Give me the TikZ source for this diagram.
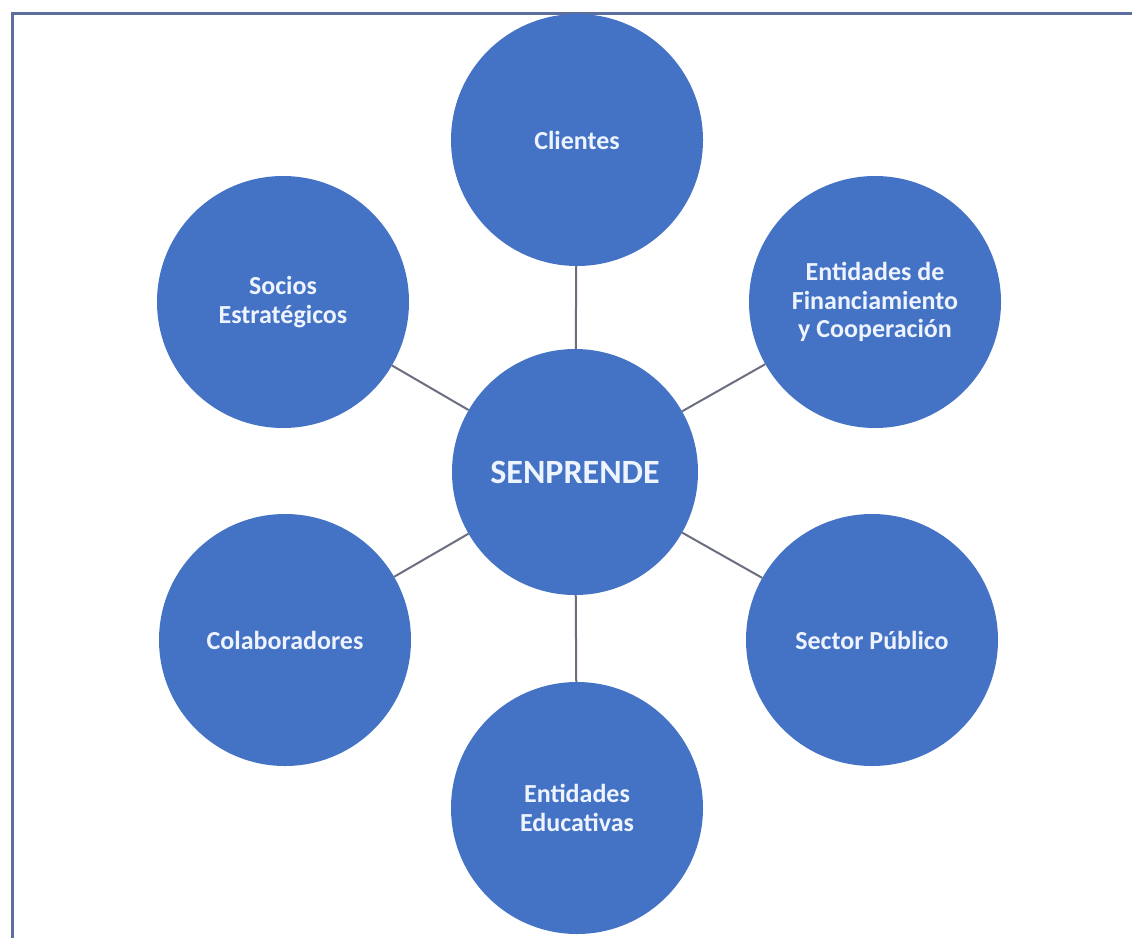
\documentclass[tikz,border=0pt]{standalone}
\usepackage{fontspec}
\setmainfont{Carlito}
\usepackage{tikz}

\definecolor{azul}{HTML}{4472C4}
\definecolor{marco}{HTML}{5B6E9E}
\definecolor{linea}{HTML}{6A6E7E}
\definecolor{texto}{HTML}{EEF4FF}

\begin{document}
\begin{tikzpicture}[x=1pt,y=-1pt,
    circulo/.style={circle,fill=azul,minimum size=252pt,inner sep=0pt,
        text=texto,font=\fontsize{26}{28.5}\selectfont\bfseries,align=center},
    centro/.style={circulo,minimum size=246pt,font=\fontsize{34}{40}\selectfont\bfseries},
    enlace/.style={draw=linea,line width=2pt}]
        \useasboundingbox (0,0) rectangle (1132,937);
        \fill[white] (0,0) rectangle (1132,937);
        \draw[marco,line width=3pt] (12,945) -- (12,13) -- (1140,13); % marco

        \node[centro] (S) at (575,472) {SENPRENDE};

        \node[circulo] (Cl) at (577,140) {Clientes};
        \node[circulo] (Fi) at (875,302) {Entidades de\\Financiamiento\\y Cooperación};
        \node[circulo] (Sp) at (872,640) {Sector Público};
        \node[circulo] (Ed) at (577,808) {Entidades\\Educativas};
        \node[circulo] (Co) at (285,640) {Colaboradores};
        \node[circulo] (So) at (283,302) {Socios\\Estratégicos};

        \draw[enlace] (S) -- (Cl);
        \draw[enlace] (S) -- (Fi);
        \draw[enlace] (S) -- (Sp);
        \draw[enlace] (S) -- (Ed);
        \draw[enlace] (S) -- (Co);
        \draw[enlace] (S) -- (So);
    \end{tikzpicture}
\end{document}
